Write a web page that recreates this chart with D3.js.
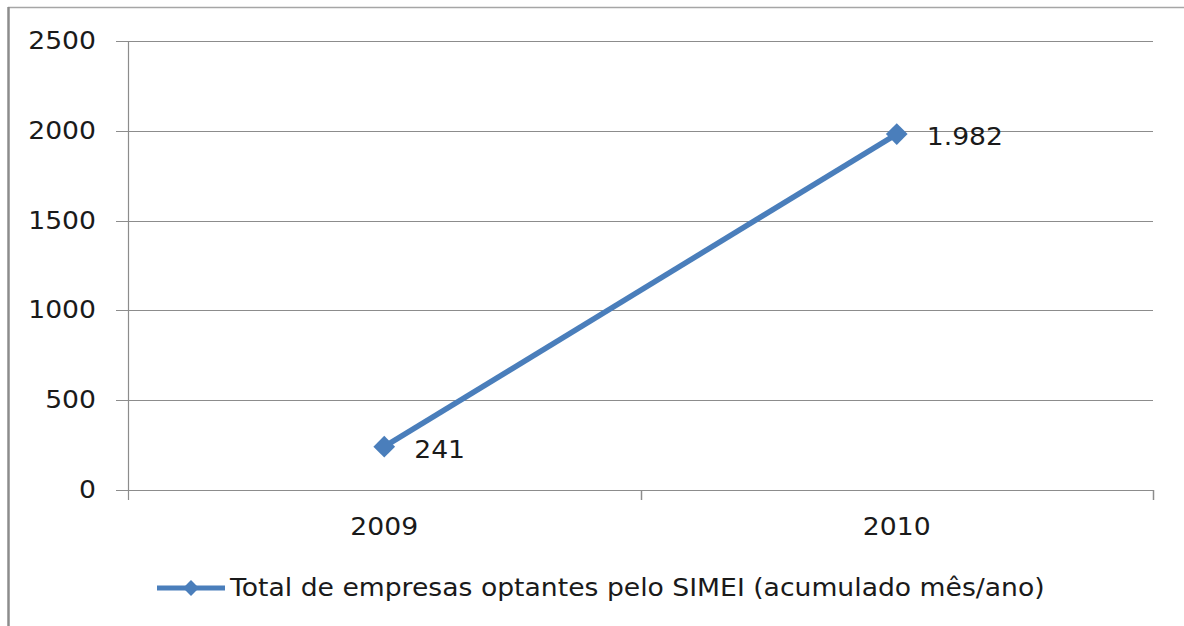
<!DOCTYPE html>
<html>
<head>
<meta charset="utf-8">
<script src="https://cdn.jsdelivr.net/npm/d3@7"></script>
<style>
  body { margin: 0; background: #fff; }
  text { font-family: "DejaVu Sans", sans-serif; fill: #1a1a1a; }
</style>
</head>
<body>
<div id="canvas"></div>
<script>
"use strict"

/* Data */
let years = ["2009", "2010"];
let totals = [241, 1982];
let valueLabels = ["241", "1.982"];
let yTicks = [0, 500, 1000, 1500, 2000, 2500];
let seriesName = "Total de empresas optantes pelo SIMEI (acumulado mês/ano)";

/* Drawing configuration */
let svgWidth = 1184;
let svgHeight = 626;
let plotLeft = 128;
let plotRight = 1153;
let plotTop = 41;
let plotBottom = 490;
let blue = "#4a7ebb";
let gridColor = "#8c8c8c";
let stretch = 1.11; // text in the picture is a bit wider than DejaVu

let svg = d3.select("#canvas")
    .append("svg")
    .attr("width", svgWidth)
    .attr("height", svgHeight);

/* Outer frame (only top and left edges visible) */
svg.append("line")
    .attr("x1", 8).attr("x2", svgWidth)
    .attr("y1", 7.5).attr("y2", 7.5)
    .attr("stroke", "#a6a6a6")
    .attr("stroke-width", 1.5);
svg.append("line")
    .attr("x1", 8.5).attr("x2", 8.5)
    .attr("y1", 7).attr("y2", svgHeight)
    .attr("stroke", "#8c8c8c")
    .attr("stroke-width", 2.5);

let xScale = d3.scaleBand()
    .domain(years)
    .range([plotLeft, plotRight]);

let yScale = d3.scaleLinear()
    .domain([0, 2500])
    .range([plotBottom, plotTop]);

/* Gridlines with left tick marks */
svg.selectAll(".grid")
    .data(yTicks)
    .join("line")
    .attr("class", "grid")
    .attr("x1", plotLeft - 12)
    .attr("x2", plotRight)
    .attr("y1", d => Math.round(yScale(d)) + 0.5)
    .attr("y2", d => Math.round(yScale(d)) + 0.5)
    .attr("stroke", gridColor)
    .attr("stroke-width", 1.2);

/* Y axis line */
svg.append("line")
    .attr("x1", plotLeft + 0.5).attr("x2", plotLeft + 0.5)
    .attr("y1", plotTop).attr("y2", plotBottom + 10)
    .attr("stroke", gridColor)
    .attr("stroke-width", 1.2);

/* Category boundary ticks below x axis */
let boundaries = [plotLeft + xScale.bandwidth(), plotRight];
svg.selectAll(".xtick")
    .data(boundaries)
    .join("line")
    .attr("class", "xtick")
    .attr("x1", d => Math.round(d) + 0.5)
    .attr("x2", d => Math.round(d) + 0.5)
    .attr("y1", plotBottom)
    .attr("y2", plotBottom + 10)
    .attr("stroke", gridColor)
    .attr("stroke-width", 1.5);

/* horizontally stretched text: x is divided so it lands where asked */
function wideText(sel, x) {
    return sel.attr("x", d => x(d) / stretch)
        .attr("transform", `scale(${stretch},1)`)
        .attr("font-size", "24px");
}

/* Y tick labels */
svg.selectAll(".ylabel")
    .data(yTicks)
    .join("text")
    .attr("class", "ylabel")
    .call(wideText, d => 96)
    .attr("y", d => yScale(d) + 8)
    .attr("text-anchor", "end")
    .text(d => d);

/* X tick labels */
svg.selectAll(".xlabel")
    .data(years)
    .join("text")
    .attr("class", "xlabel")
    .call(wideText, d => xScale(d) + xScale.bandwidth() / 2)
    .attr("y", 535)
    .attr("text-anchor", "middle")
    .text(d => d);

/* Series line */
let points = years.map((y, i) => ({ year: y, value: totals[i], label: valueLabels[i] }));
let cx = d => xScale(d.year) + xScale.bandwidth() / 2;

svg.append("path")
    .datum(points)
    .attr("fill", "none")
    .attr("stroke", blue)
    .attr("stroke-width", 5.5)
    .attr("d", d3.line().x(cx).y(d => yScale(d.value)));

let diamond = d3.symbol().type(d3.symbolDiamond2).size(300);

svg.selectAll(".marker")
    .data(points)
    .join("path")
    .attr("class", "marker")
    .attr("d", diamond)
    .attr("transform", d => `translate(${cx(d)},${yScale(d.value)})`)
    .attr("fill", blue);

/* Data labels */
svg.selectAll(".vlabel")
    .data(points)
    .join("text")
    .attr("class", "vlabel")
    .call(wideText, d => cx(d) + 30)
    .attr("y", d => yScale(d.value) + 11)
    .text(d => d.label);

/* Legend */
let legendY = 588;
svg.append("line")
    .attr("x1", 157).attr("x2", 225)
    .attr("y1", legendY).attr("y2", legendY)
    .attr("stroke", blue)
    .attr("stroke-width", 5);
svg.append("path")
    .attr("d", d3.symbol().type(d3.symbolDiamond2).size(160))
    .attr("transform", `translate(191,${legendY})`)
    .attr("fill", blue);
svg.append("text")
    .datum(seriesName)
    .call(wideText, d => 230)
    .attr("y", legendY + 8)
    .text(d => d);
</script>
</body>
</html>
